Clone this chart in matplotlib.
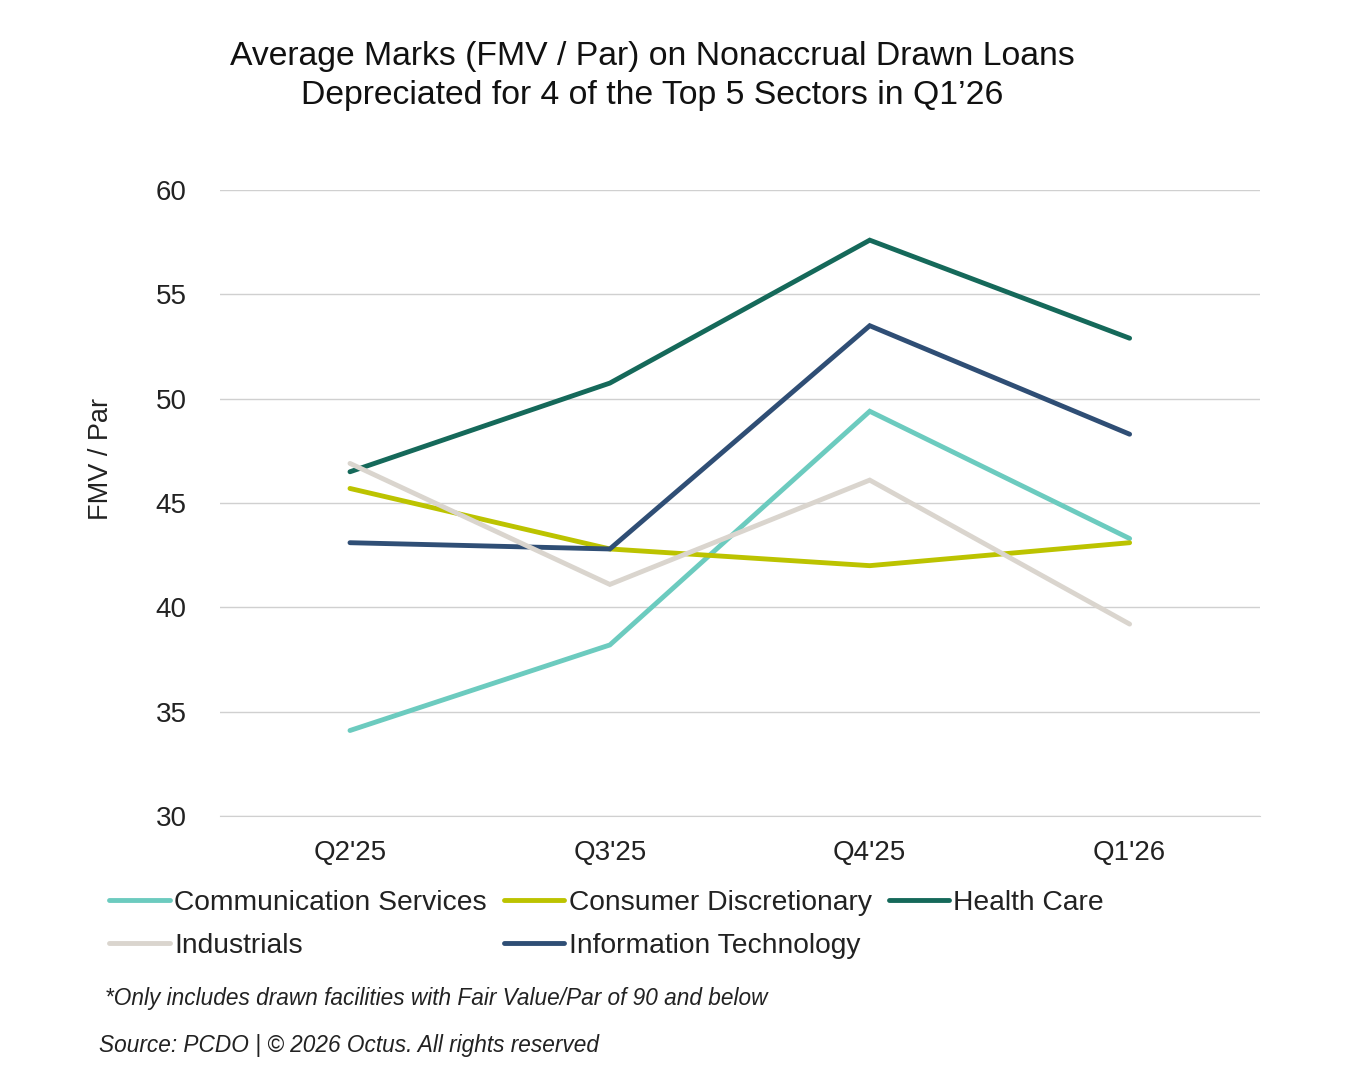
import matplotlib
matplotlib.use("Agg")
import matplotlib.pyplot as plt

quarters = ["Q2'25", "Q3'25", "Q4'25", "Q1'26"]
comm_services = [34.1, 38.2, 49.4, 43.3]
consumer_disc = [45.7, 42.8, 42.0, 43.1]
health_care = [46.5, 50.75, 57.6, 52.9]
industrials = [46.9, 41.1, 46.1, 39.2]
info_tech = [43.1, 42.8, 53.5, 48.3]

series = [
    ("Communication Services", comm_services, "#6ccbbf"),
    ("Consumer Discretionary", consumer_disc, "#bcc300"),
    ("Health Care", health_care, "#15695a"),
    ("Industrials", industrials, "#dad5ce"),
    ("Information Technology", info_tech, "#2f4e75"),
]

plt.rcParams['font.family'] = ['Liberation Sans', 'DejaVu Sans']

fig = plt.figure(figsize=(13.5, 10.8), dpi=100)
ax = fig.add_axes([0.163, 0.2444, 0.77, 0.5796])

x = list(range(len(quarters)))
handles = {}
zorders = {"Communication Services": 3, "Consumer Discretionary": 3, "Health Care": 3,
           "Information Technology": 4, "Industrials": 5}
for name, vals, col in series:
    h, = ax.plot(x, vals, color=col, lw=3.5, label=name, zorder=zorders[name],
                 solid_capstyle='round', solid_joinstyle='miter')
    handles[name] = h

ax.set_xlim(-0.5, 3.5)
ax.set_ylim(30, 60)
ax.set_yticks([30, 35, 40, 45, 50, 55, 60])
ax.set_xticks(x)
ax.set_xticklabels(quarters)
ax.grid(axis='y', color='#d0d0d0', lw=1.0)
ax.set_axisbelow(True)
for s in ['top', 'right', 'left']:
    ax.spines[s].set_visible(False)
ax.spines['bottom'].set_color('#d0d0d0')
ax.tick_params(axis='both', length=0, labelsize=20, colors='#222222')
ax.tick_params(axis='y', pad=24)
ax.tick_params(axis='x', pad=17)
ax.set_ylabel("FMV / Par", fontsize=19.5, color='#222222')
ax.yaxis.set_label_coords(-0.102, 0.57)

fig.text(0.483, 0.948, "Average Marks (FMV / Par) on Nonaccrual Drawn Loans",
         ha='center', va='center', fontsize=24.3, color='#111111')
fig.text(0.483, 0.912, "Depreciated for 4 of the Top 5 Sectors in Q1\u201926",
         ha='center', va='center', fontsize=24.3, color='#111111')

order = ["Communication Services", "Industrials", "Consumer Discretionary",
         "Information Technology", "Health Care"]
leg = fig.legend([handles[n] for n in order], order, ncol=3, loc='upper left',
                 bbox_to_anchor=(0.081, 0.176), frameon=False, fontsize=20.3,
                 handlelength=2.15, handletextpad=0.15, columnspacing=0.6,
                 labelspacing=0.6, borderaxespad=0, borderpad=0)
for t in leg.get_texts():
    t.set_color('#222222')

fig.text(0.078, 0.075, "*Only includes drawn facilities with Fair Value/Par of 90 and below",
         fontsize=16.3, style='italic', color='#222222', va='center')
fig.text(0.073, 0.032, "Source: PCDO | \u00a9 2026 Octus. All rights reserved",
         fontsize=16.3, style='italic', color='#222222', va='center')

fig.savefig("out.png", dpi=100, facecolor='white')
